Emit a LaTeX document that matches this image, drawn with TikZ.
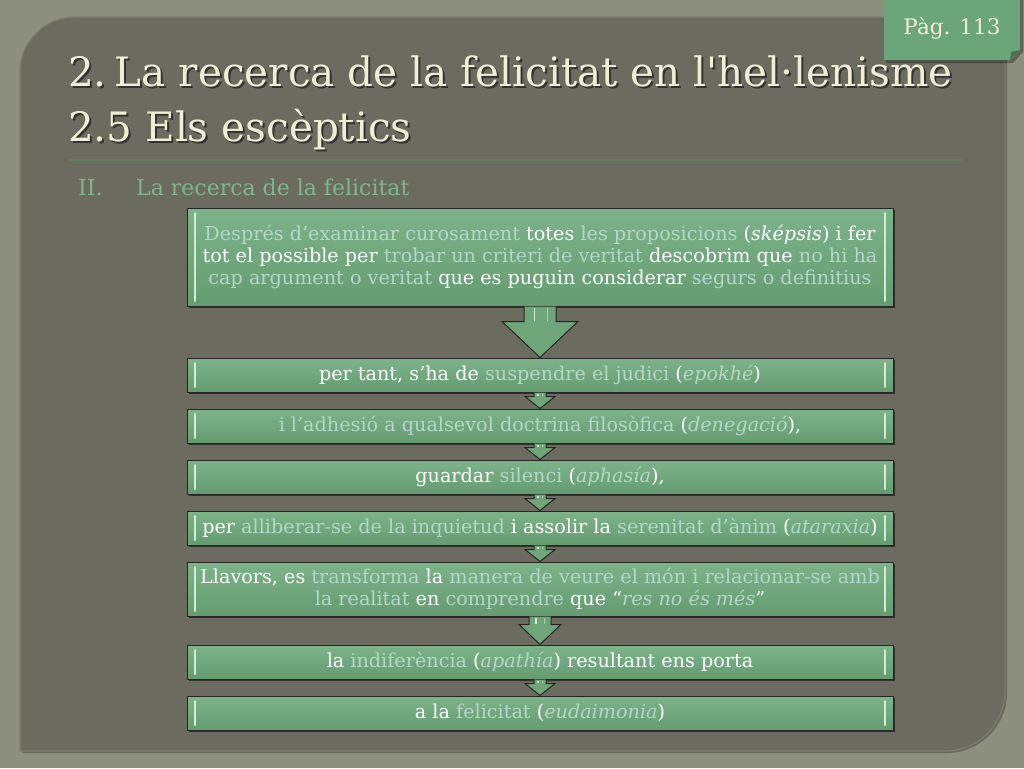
\documentclass[tikz,border=0pt]{standalone}
\usepackage{fontspec}
\setmainfont{DejaVu Serif}
\newfontfamily\titlefont{DejaVu Serif}
\newfontfamily\boxfont{DejaVu Serif}
\usetikzlibrary{shadows,calc}
\definecolor{outerbg}{HTML}{8D907F}
\definecolor{panelbg}{HTML}{6B6C5F}
\definecolor{panelrim}{HTML}{7B7D6F}
\definecolor{boxgreen}{HTML}{6EA67A}
\definecolor{boxtop}{HTML}{7DB389}
\definecolor{boxbot}{HTML}{649C70}
\definecolor{lighttxt}{HTML}{B4D6CB}
\definecolor{hlgreen}{HTML}{D2EED2}
\definecolor{titlecol}{HTML}{F1EED6}
\definecolor{subcol}{HTML}{80B58E}
\definecolor{rulecol}{HTML}{5F7E60}
\definecolor{tagcol}{HTML}{6BA67B}
\newcommand\Lt[1]{\textcolor{lighttxt}{#1}}
\newcommand\Li[1]{\textcolor{lighttxt}{\textit{#1}}}
\tikzset{
  flowbox/.style={draw=black!85, line width=1pt, top color=boxtop, bottom color=boxbot,
    minimum width=706pt, inner sep=0pt, align=center, text=white,
    font=\boxfont\fontsize{19.2}{22}\selectfont,
    drop shadow={shadow xshift=2pt, shadow yshift=-2pt, opacity=0.55, fill=black},
    path picture={
      \draw[hlgreen, line width=2pt, line cap=round]
        ([xshift=8pt,yshift=-5pt]path picture bounding box.north west) --
        ([xshift=8pt,yshift=5pt]path picture bounding box.south west);
      \draw[hlgreen, line width=2pt, line cap=round]
        ([xshift=-8pt,yshift=-5pt]path picture bounding box.north east) --
        ([xshift=-8pt,yshift=5pt]path picture bounding box.south east);
    }},
  arrowfill/.style={fill=boxgreen},
  arrowline/.style={draw=black!85, line width=1pt, line join=miter},
  titletext/.style={text=titlecol, font=\titlefont\fontsize{40.5}{40}\selectfont, anchor=base west, inner sep=0pt},
  titleshadow/.style={text=black!80, font=\titlefont\fontsize{40.5}{40}\selectfont, anchor=base west, inner sep=0pt},
  subtext/.style={anchor=base west, inner sep=0pt, text=subcol, font=\titlefont\fontsize{22}{22}\selectfont},
}
% #1 from node, #2 to node, #3 shaft half width, #4 head half width, #5 head length
\newcommand\flowarrow[5]{%
  \path let \p1=(#1.south), \p2=(#2.north) in
    coordinate (sA) at (\x1-#3,\y1)
    coordinate (sB) at (\x1-#3,\y2+#5)
    coordinate (sC) at (\x1-#4,\y2+#5)
    coordinate (sD) at (\x1,\y2)
    coordinate (sE) at (\x1+#4,\y2+#5)
    coordinate (sF) at (\x1+#3,\y2+#5)
    coordinate (sG) at (\x1+#3,\y1)
    coordinate (hA) at (\x1-0.35*#3,\y1-1pt)
    coordinate (hB) at (\x1-0.35*#3,\y2+#5+1pt)
    coordinate (hC) at (\x1+0.45*#3,\y1-1pt)
    coordinate (hD) at (\x1+0.45*#3,\y2+#5+1pt);
  \fill[arrowfill] (sA) -- (sB) -- (sC) -- (sD) -- (sE) -- (sF) -- (sG) -- cycle;
  \draw[hlgreen, line width=1.6pt] (hA) -- (hB);
  \draw[hlgreen!60!boxgreen, line width=1pt] (hC) -- (hD);
  \draw[arrowline] (sA) -- (sB) -- (sC) -- (sD) -- (sE) -- (sF) -- (sG);
}
\begin{document}
\begin{tikzpicture}[x=1pt,y=-1pt]
\useasboundingbox (0,0) rectangle (1024,768);
\fill[outerbg] (0,0) rectangle (1024,768);
% panel
\fill[black, opacity=0.25] (22,753) -- (22,74) .. controls (22,43.6) and (46.6,19) .. (77,19) -- (1007,19) -- (1007,693) .. controls (1007,726) and (980,753) .. (947,753) -- cycle;
\filldraw[fill=panelbg, draw=panelrim, line width=1.2pt] (20,751) -- (20,72) .. controls (20,41.6) and (44.6,17) .. (75,17) -- (1005,17) -- (1005,691) .. controls (1005,724.1) and (978.1,751) .. (945,751) -- cycle;
% title
\node[titleshadow] (t1s) at (70,88) {2.\hspace{0.2em}La recerca de la felicitat en l'hel·lenisme};
\node[titletext] (t1) at (68,86) {2.\hspace{0.2em}La recerca de la felicitat en l'hel·lenisme};
\node[titleshadow] (t2s) at (70,143) {2.5 Els escèptics};
\node[titletext] (t2) at (68,141) {2.5 Els escèptics};
\draw[rulecol, line width=1.5pt] (67,160) -- (962,160);
\node[subtext] (n2) at (78,195) {II.};
\node[subtext] (sub) at (136,195) {La recerca de la felicitat};
% tag
\fill[black, opacity=0.3] (886,0) -- (1023,0) -- (1023,52) -- (1013,63) -- (886,63) -- cycle;
\fill[tagcol] (884,0) -- (1020,0) -- (1020,50) -- (1010,60) -- (884,60) -- cycle;
\fill[tagcol!70!black] (1020,50) -- (1011,52) -- (1010,60) -- cycle;
\node[text=titlecol, font=\titlefont\fontsize{21.5}{21}\selectfont, inner sep=0pt] (tag) at (952,28) {Pàg. 113};
% boxes
\node[flowbox, minimum height=98pt] (b1) at (540,257) {\Lt{Després d’examinar curosament} totes \Lt{les proposicions} (\textit{sképsis}) i fer\\ tot el possible per \Lt{trobar un criteri de veritat} descobrim que \Lt{no hi ha}\\ \Lt{cap argument o veritat} que es puguin considerar \Lt{segurs o definitius}};
\node[flowbox, minimum height=34pt] (b2) at (540,375) {per tant, s’ha de \Lt{suspendre el judici} (\Li{epokhé})};
\node[flowbox, minimum height=34pt] (b3) at (540,426) {\Lt{i l’adhesió a qualsevol doctrina filosòfica} (\Li{denegació}),};
\node[flowbox, minimum height=34pt] (b4) at (540,477) {guardar \Lt{silenci} (\Li{aphasía}),};
\node[flowbox, minimum height=34pt] (b5) at (540,528) {per \Lt{alliberar-se de la inquietud} i assolir la \Lt{serenitat d’ànim} (\Li{ataraxia})};
\node[flowbox, minimum height=54pt] (b6) at (540,589) {Llavors, es \Lt{transforma} la \Lt{manera de veure el món i relacionar-se amb}\\ \Lt{la realitat} en \Lt{comprendre} que “\Li{res no és més}”};
\node[flowbox, minimum height=34pt] (b7) at (540,662) {la \Lt{indiferència} (\Li{apathía}) resultant ens porta};
\node[flowbox, minimum height=34pt] (b8) at (540,713) {a la \Lt{felicitat} (\Li{eudaimonia})};
% arrows
\flowarrow{b1}{b2}{16pt}{38pt}{36pt}
\flowarrow{b2}{b3}{6pt}{15pt}{12pt}
\flowarrow{b3}{b4}{6pt}{15pt}{12pt}
\flowarrow{b4}{b5}{6pt}{15pt}{12pt}
\flowarrow{b5}{b6}{6pt}{15pt}{12pt}
\flowarrow{b6}{b7}{11pt}{21pt}{20pt}
\flowarrow{b7}{b8}{6pt}{15pt}{12pt}
\end{tikzpicture}
\end{document}
